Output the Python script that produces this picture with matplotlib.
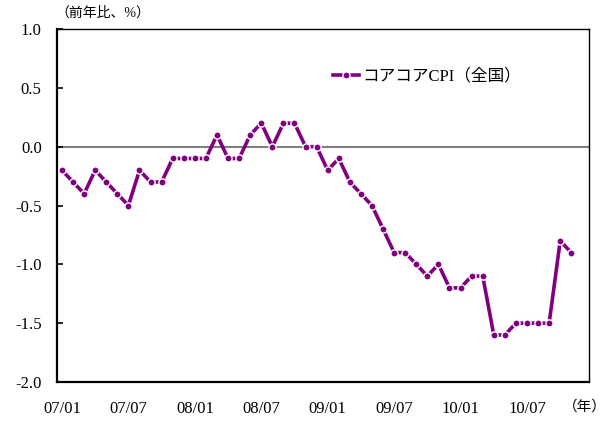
import matplotlib
matplotlib.use("Agg")
import matplotlib.pyplot as plt

plt.rcParams['font.family'] = ['Liberation Serif', 'Noto Sans CJK JP']

# monthly core-core CPI, y/y %, 2007/01 - 2010/11
cpi_2007 = [-0.2, -0.3, -0.4, -0.2, -0.3, -0.4, -0.5, -0.2, -0.3, -0.3, -0.1, -0.1]
cpi_2008 = [-0.1, -0.1, 0.1, -0.1, -0.1, 0.1, 0.2, 0.0, 0.2, 0.2, 0.0, 0.0]
cpi_2009 = [-0.2, -0.1, -0.3, -0.4, -0.5, -0.7, -0.9, -0.9, -1.0, -1.1, -1.0, -1.2]
cpi_2010 = [-1.2, -1.1, -1.1, -1.6, -1.6, -1.5, -1.5, -1.5, -1.5, -0.8, -0.9]
values = cpi_2007 + cpi_2008 + cpi_2009 + cpi_2010

tick_labels = ["07/01", "07/07", "08/01", "08/07", "09/01", "09/07", "10/01", "10/07"]
tick_pos = [0, 6, 12, 18, 24, 30, 36, 42]

fig = plt.figure(figsize=(6.11, 4.21), dpi=100)
ax = fig.add_axes([0.0933, 0.0926, 0.8707, 0.8384])

purple = "#800080"
ax.axhline(0, color="#808080", lw=1.5, zorder=1)
ax.plot(range(len(values)), values, color=purple, lw=2.6, marker="o",
        markersize=5.2, markerfacecolor=purple, markeredgecolor="white",
        markeredgewidth=1.0, label="コアコアCPI（全国）", zorder=3)

ax.set_xlim(-0.45, 47.6)
ax.set_ylim(-2.0, 1.0)
ax.set_yticks([1.0, 0.5, 0.0, -0.5, -1.0, -1.5, -2.0])
ax.set_yticklabels(["1.0", "0.5", "0.0", "-0.5", "-1.0", "-1.5", "-2.0"])
ax.set_xticks(tick_pos)
ax.set_xticklabels(tick_labels)
ax.tick_params(axis="y", direction="in", length=4, width=1.2, pad=11, labelsize=12)
ax.tick_params(axis="x", length=0, pad=14, labelsize=12)

for side in ["left", "bottom"]:
    ax.spines[side].set_linewidth(1.6)
for side in ["top", "right"]:
    ax.spines[side].set_linewidth(1.0)

fig.text(0.09, 0.968, "（前年比、%）", fontsize=10, ha="left", va="center")
fig.text(0.957, 0.034, "（年）", fontsize=10.5, ha="center", va="center")

leg = ax.legend(loc="center left", bbox_to_anchor=(0.49, 0.865), frameon=False,
                fontsize=12, handlelength=1.6, handletextpad=0.2, numpoints=1)

fig.savefig("out.png", dpi=100)
